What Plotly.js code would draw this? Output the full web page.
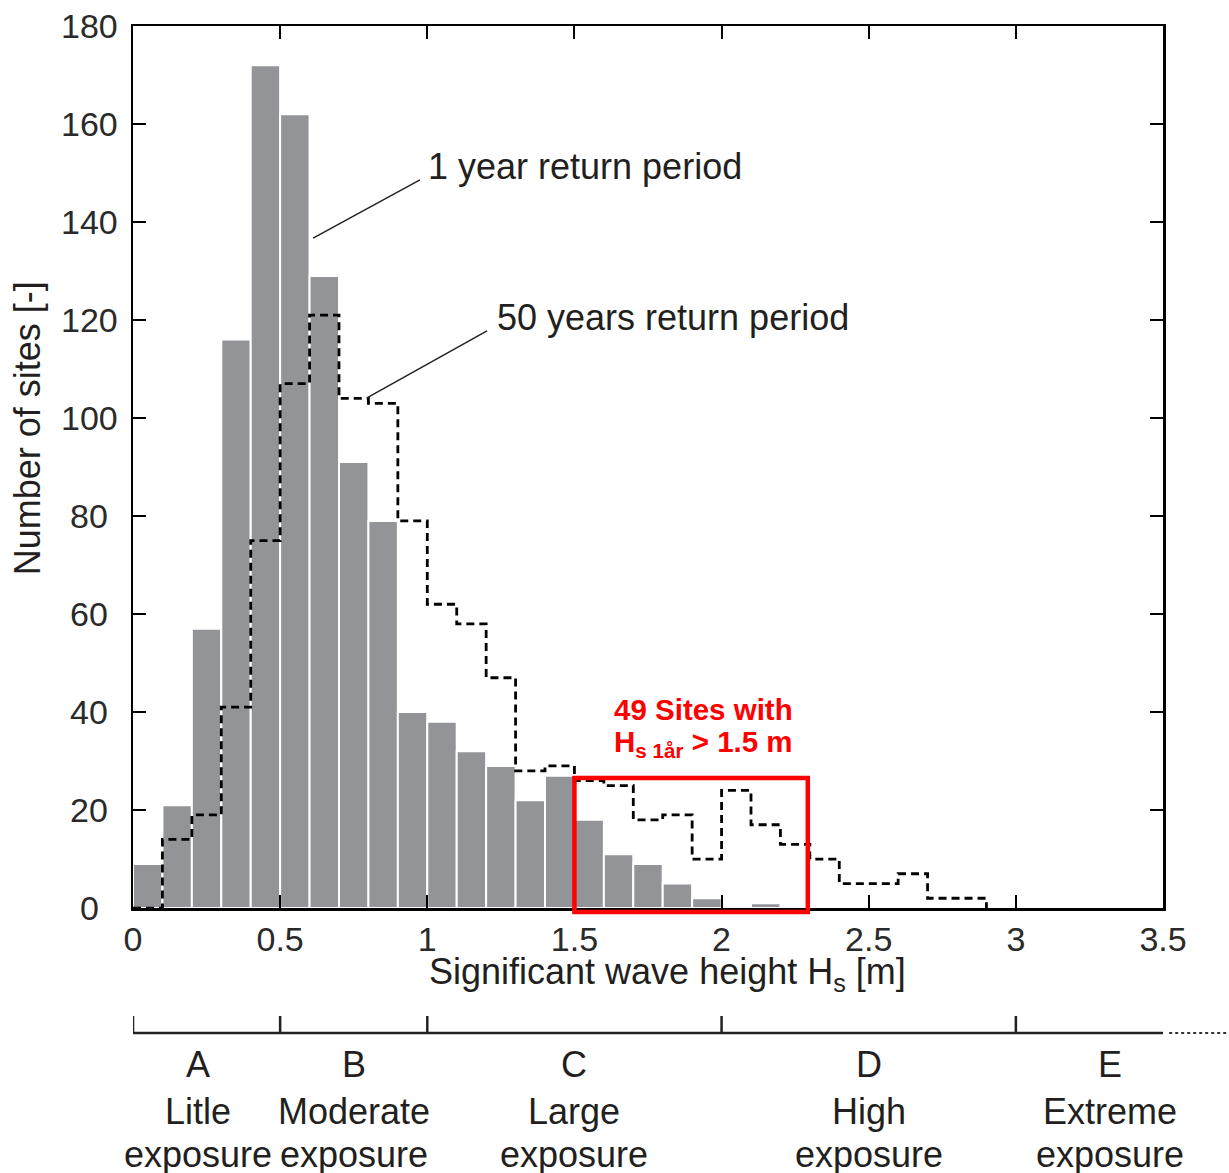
<!DOCTYPE html>
<html>
<head>
<meta charset="utf-8">
<script src="https://cdn.plot.ly/plotly-3.0.1.min.js"></script>
<style>html,body{margin:0;padding:0;background:#fff;}#chart{width:1229px;height:1173px;}</style>
</head>
<body>
<div id="chart"></div>
<script>
// Bin left edges (m), bin width 0.1
var binEdges = [0,0.1,0.2,0.3,0.4,0.5,0.6,0.7,0.8,0.9,1.0,1.1,1.2,1.3,1.4,1.5,1.6,1.7,1.8,1.9,2.0,2.1,2.2,2.3,2.4,2.5,2.6,2.7,2.8,2.9];
// 1 year return period: number of sites per bin
var sites1yr = [9,21,57,116,172,162,129,91,79,40,38,32,29,22,27,18,11,9,5,2,0,1,0,0,0,0,0,0,0,0];
// 50 years return period: number of sites per bin
var sites50yr = [0,14,19,41,75,107,121,104,103,79,62,58,47,28,29,26,25,18,19,10,24,17,13,10,5,5,7,2,2,0];
var binWidth = 0.1;

// Exposure classes
var exposureTicks = [0,0.5,1,2,3];
var exposureRange = [0,3.5];
var exposureLetters = ["A","B","C","D","E"];
var exposureWord = ["Litle","Moderate","Large","High","Extreme"];
var exposureCenters = [0.22,0.75,1.5,2.5,3.32];

var xTickVals = [0,0.5,1,1.5,2,2.5,3,3.5];
var xTickText = ["0","0.5","1","1.5","2","2.5","3","3.5"];
var yTickVals = [0,20,40,60,80,100,120,140,160,180];
var yTickText = ["0","20","40","60","80","100","120","140","160","180"];

var FONT = "Liberation Sans, Arial, Helvetica, sans-serif";
var TXT = "#231f20";
var TICKTXT = "#2a2a2a";

var barCenters = binEdges.map(function(e){return e + binWidth/2;});

var traces = [
  {
    type: "bar",
    x: barCenters,
    y: sites1yr,
    width: binWidth,
    marker: {color: "#929497", line: {color: "#ffffff", width: 2}},
    hoverinfo: "x+y",
    showlegend: false
  },
  {
    type: "scatter",
    mode: "lines",
    x: binEdges,
    y: sites50yr,
    line: {shape: "hv", color: "#000000", width: 2.8, dash: "8px,5px"},
    showlegend: false
  }
];

// paper coordinates: margin t=26, b=0 -> paper height 1147
var domBottom = 0.231;
var expoAxisPos = 0.1221;   // y=1033 px
var expoTickTop = 0.1369;   // y=1016 px
var yLabelX = -0.0427;      // centred y tick labels at x=89 px

var annotations = [
  {xref:"x", yref:"y", x:0.996, y:151.4, xanchor:"left", yanchor:"middle", showarrow:false,
   text:"1 year return period", font:{family:FONT, size:36, color:TXT}},
  {xref:"x", yref:"y", x:1.230, y:120.6, xanchor:"left", yanchor:"middle", showarrow:false,
   text:"50 years return period", font:{family:FONT, size:36, color:TXT}},
  {xref:"x", yref:"y", x:1.937, y:40.6, xanchor:"center", yanchor:"middle", showarrow:false,
   text:"<b>49 Sites with</b>", font:{family:FONT, size:29.5, color:"#ff0000"}},
  {xref:"x", yref:"y", x:1.937, y:33.6, xanchor:"center", yanchor:"middle", showarrow:false,
   text:"<b>H<sub>s 1år</sub> &gt; 1.5 m</b>", font:{family:FONT, size:29.5, color:"#ff0000"}},
  // axis titles
  {xref:"paper", yref:"paper", x:0.519, y:0.1735, xanchor:"center", yanchor:"middle", showarrow:false,
   text:"Significant wave height H<sub>s</sub> [m]", font:{family:FONT, size:36, color:TXT}},
  {xref:"paper", yref:"paper", x:-0.1025, y:0.6496, xanchor:"center", yanchor:"middle", showarrow:false, textangle:-90,
   text:"Number of sites [-]", font:{family:FONT, size:36, color:TXT}}
];
// centred y tick labels
yTickVals.forEach(function(v, k){
  annotations.push({xref:"paper", yref:"y", x:yLabelX, y:v, xanchor:"center", yanchor:"middle", showarrow:false,
    text:yTickText[k], font:{family:FONT, size:34, color:TICKTXT}});
});
for (var i = 0; i < exposureLetters.length; i++) {
  annotations.push({xref:"x", yref:"paper", x:exposureCenters[i], y:0.0950, xanchor:"center", yanchor:"middle",
    showarrow:false, text:exposureLetters[i], font:{family:FONT, size:36, color:TXT}});
  annotations.push({xref:"x", yref:"paper", x:exposureCenters[i], y:0.0532, xanchor:"center", yanchor:"middle",
    showarrow:false, text:exposureWord[i], font:{family:FONT, size:36, color:TXT}});
  annotations.push({xref:"x", yref:"paper", x:exposureCenters[i], y:0.0157, xanchor:"center", yanchor:"middle",
    showarrow:false, text:"exposure", font:{family:FONT, size:36, color:TXT}});
}

var shapes = [
  {type:"line", xref:"x", yref:"y", x0:0.612, y0:136.7, x1:0.975, y1:148.6, line:{color:"#222", width:1.5}},
  {type:"line", xref:"x", yref:"y", x0:0.795, y0:104.1, x1:1.203, y1:117.8, line:{color:"#222", width:1.5}},
  {type:"rect", xref:"x", yref:"paper", x0:1.5, x1:2.293, y0:0.2275, y1:0.3444, line:{color:"#ff0000", width:4.5}, layer:"above"},
  // exposure scale
  {type:"line", xref:"x", yref:"paper", x0:exposureRange[0], x1:exposureRange[1], y0:expoAxisPos, y1:expoAxisPos, line:{color:"#222", width:2.5}},
  {type:"line", xref:"paper", yref:"paper", x0:1.006, x1:1.07, y0:expoAxisPos, y1:expoAxisPos, line:{color:"#333", width:2, dash:"dot"}}
];
exposureTicks.forEach(function(t){
  shapes.push({type:"line", xref:"x", yref:"paper", x0:t, x1:t, y0:expoAxisPos, y1:expoTickTop, line:{color:"#222", width:2.5}});
});

var axisCommon = {
  showline: true, linecolor: "#000", linewidth: 2.5, mirror: "ticks",
  ticks: "inside", ticklen: 13, tickwidth: 2, tickcolor: "#000",
  showgrid: false, zeroline: false, fixedrange: true,
  tickfont: {family: FONT, size: 34, color: TICKTXT}
};

var layout = {
  width: 1229, height: 1173,
  margin: {l:133, r:66, t:26, b:0, pad:0},
  paper_bgcolor: "#fff", plot_bgcolor: "#fff",
  bargap: 0,
  showlegend: false,
  xaxis: Object.assign({}, axisCommon, {
    range: [0,3.5], tickvals: xTickVals, ticktext: xTickText, anchor: "y",
    ticklabelstandoff: 0
  }),
  yaxis: Object.assign({}, axisCommon, {
    range: [0,180], tickvals: yTickVals, domain: [domBottom, 1],
    showticklabels: false
  }),
  annotations: annotations,
  shapes: shapes
};

Plotly.newPlot("chart", traces, layout, {displayModeBar: false, staticPlot: true});
</script>
</body>
</html>
